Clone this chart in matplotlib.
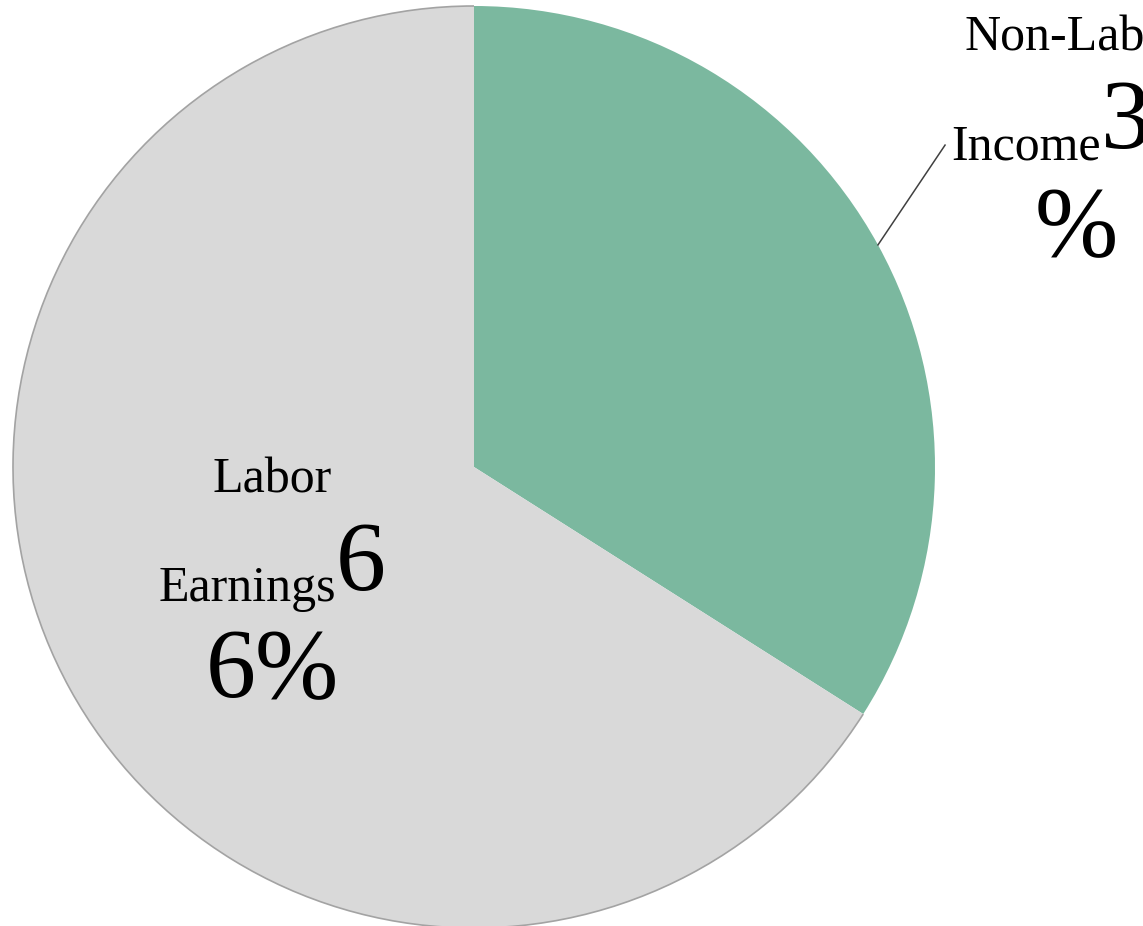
import matplotlib.pyplot as plt
import numpy as np
from matplotlib.patches import Arc

# data
labels = ['Non-Labor Income', 'Labor Earnings']
shares = [34, 66]
colors = ['#7bb89f', '#d9d9d9']

# layout (pixels, figure is 1143x926)
W, H = 1143, 926
cx, cy, r = 474, H - 467, 461
label_dist = [1.49, 0.5]
big_split = [2, 1]          # how many digits sit on the second line
small_fs, big_fs = 36, 72

plt.rcParams['font.family'] = ['Liberation Serif', 'DejaVu Serif']

fig = plt.figure(figsize=(W / 100, H / 100), dpi=100)
ax = fig.add_axes([0, 0, 1, 1])
ax.set_xlim(0, W)
ax.set_ylim(0, H)
ax.set_aspect('equal')
ax.axis('off')

wedges, _ = ax.pie(shares, colors=colors, startangle=90, counterclock=False,
                   radius=r, center=(cx, cy), frame=True,
                   wedgeprops=dict(linewidth=0))
ax.set_xlim(0, W)
ax.set_ylim(0, H)
ax.axis('off')

# thin outline only around the grey slice
g = wedges[1]
ax.add_patch(Arc((cx, cy), 2 * r, 2 * r, theta1=g.theta1, theta2=g.theta2,
                 color='#a3a3a3', linewidth=1.2))

fig.canvas.draw()
rend = fig.canvas.get_renderer()

for i, w in enumerate(wedges):
    mid = np.deg2rad((w.theta1 + w.theta2) / 2)
    lx = cx + label_dist[i] * r * np.cos(mid)
    ly = cy + label_dist[i] * r * np.sin(mid)
    first, second = labels[i].split(' ')
    pct = f'{shares[i]}%'
    k = big_split[i]

    ax.text(lx, ly + 86, first, fontsize=small_fs, ha='center', va='baseline')
    t_small = ax.text(0, ly - 23, second, fontsize=small_fs, ha='left', va='baseline')
    t_big = ax.text(0, ly - 12, pct[:k], fontsize=big_fs, ha='left', va='baseline')
    ax.text(lx, ly - 119, pct[k:], fontsize=big_fs, ha='center', va='baseline')

    ws = t_small.get_window_extent(rend).width
    wb = t_big.get_window_extent(rend).width
    x0 = lx - (ws + wb) / 2
    t_small.set_x(x0)
    t_big.set_x(x0 + ws)

    if label_dist[i] > 1:
        ex, ey = cx + r * np.cos(mid), cy + r * np.sin(mid)
        ax.plot([ex, x0 - 6], [ey, ly - 9], color='#404040', linewidth=1.1)

fig.savefig('out.png', dpi=100)
